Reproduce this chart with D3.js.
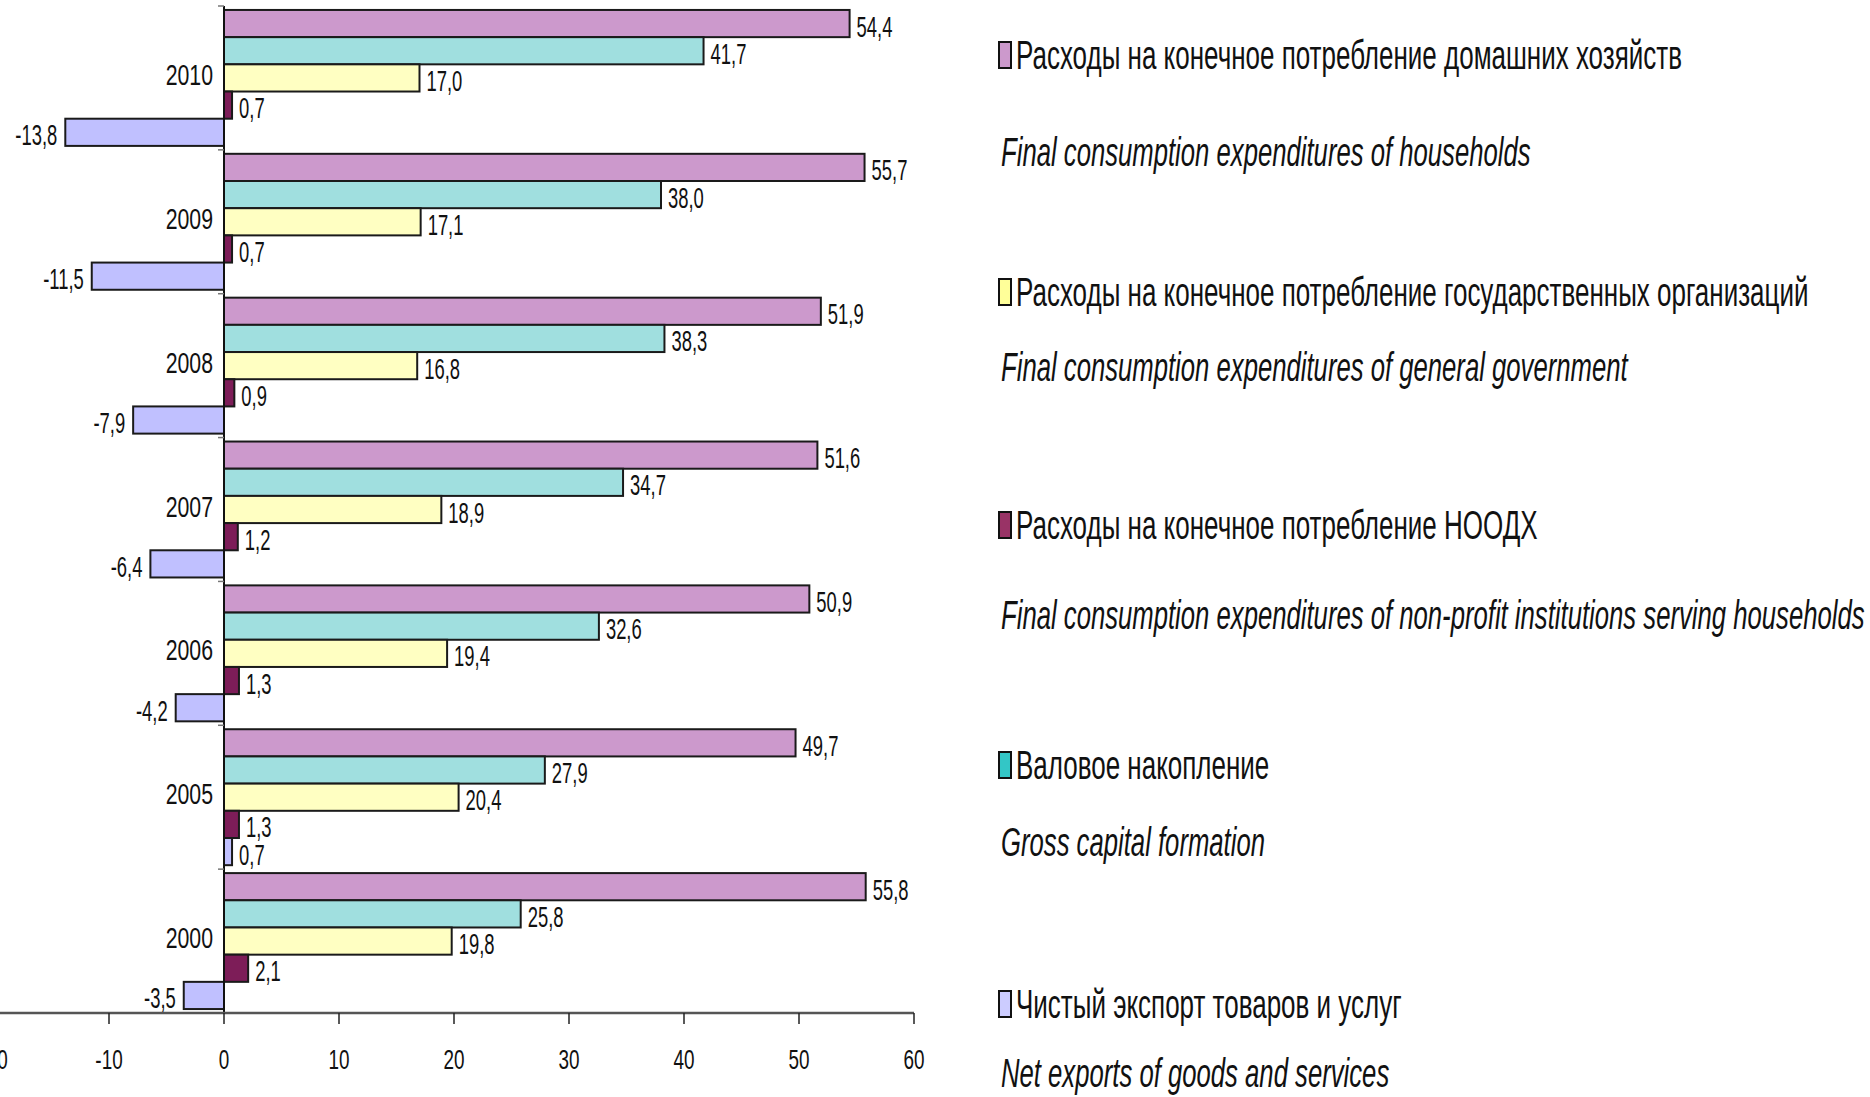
<!DOCTYPE html>
<html>
<head>
<meta charset="utf-8">
<script src="https://cdn.jsdelivr.net/npm/d3@7"></script>
<style>
  html, body { margin: 0; padding: 0; background: #fff; }
  svg { display: block; }
  text { font-family: "Liberation Sans", Arial, sans-serif; fill: #111; }
</style>
</head>
<body>
<svg id="chart" width="1870" height="1097"></svg>
<script>
// ---- Data ----
const years = ["2010", "2009", "2008", "2007", "2006", "2005", "2000"];
const seriesKeys = ["hh", "gcf", "gov", "npish", "nx"]; // bar order top->bottom within a year
const households = [54.4, 55.7, 51.9, 51.6, 50.9, 49.7, 55.8];
const grossCapital = [41.7, 38.0, 38.3, 34.7, 32.6, 27.9, 25.8];
const government = [17.0, 17.1, 16.8, 18.9, 19.4, 20.4, 19.8];
const npish = [0.7, 0.7, 0.9, 1.2, 1.3, 1.3, 2.1];
const netExports = [-13.8, -11.5, -7.9, -6.4, -4.2, 0.7, -3.5];
const xTicks = [-20, -10, 0, 10, 20, 30, 40, 50, 60];

const seriesValues = { hh: households, gcf: grossCapital, gov: government, npish: npish, nx: netExports };
const barColors = { hh: "#cc99cc", gcf: "#a0dfdf", gov: "#ffffc2", npish: "#7d1d58", nx: "#c0c0ff" };
const legendColors = { hh: "#cc99cc", gcf: "#33c6c6", gov: "#ffff99", npish: "#993366", nx: "#ccccff" };

// legend order
const legendKeys = ["hh", "gov", "npish", "gcf", "nx"];
const legendRu = {
  hh: "Расходы на конечное потребление домашних хозяйств",
  gov: "Расходы на конечное потребление государственных организаций",
  npish: "Расходы на конечное потребление НООДХ",
  gcf: "Валовое накопление",
  nx: "Чистый экспорт товаров и услуг"
};
const legendEn = {
  hh: "Final consumption expenditures of households",
  gov: "Final consumption expenditures of general government",
  npish: "Final consumption expenditures of non-profit institutions serving households",
  gcf: "Gross capital formation",
  nx: "Net exports of goods and services"
};

// ---- Layout ----
const svg = d3.select("#chart");
const fmt = v => d3.format(".1f")(v).replace(".", ",").replace("\u2212", "-");

const x = d3.scaleLinear().domain([-20, 60]).range([-6, 914]);
const y = d3.scaleBand().domain(years).range([6, 1013]).paddingInner(0.055).paddingOuter(0.0275);
const ySub = d3.scaleBand().domain(seriesKeys).range([0, y.bandwidth()]);

function sText(sel, tx, ty, sx, size, anchor, italic) {
  return sel.append("text")
    .attr("transform", `translate(${tx},${ty}) scale(${sx},1)`)
    .attr("font-size", size)
    .attr("text-anchor", anchor)
    .attr("font-style", italic ? "italic" : "normal");
}

// rows
const rows = years.map((yr, i) => ({ year: yr, vals: seriesKeys.map(k => ({ key: k, v: seriesValues[k][i] })) }));

const plot = svg.append("g");
const groups = plot.selectAll("g.grp").data(rows).join("g")
  .attr("class", "grp")
  .attr("transform", d => `translate(0,${y(d.year)})`);

groups.selectAll("rect").data(d => d.vals).join("rect")
  .attr("x", d => x(Math.min(0, d.v)))
  .attr("y", d => ySub(d.key))
  .attr("width", d => Math.abs(x(d.v) - x(0)))
  .attr("height", ySub.bandwidth())
  .attr("fill", d => barColors[d.key])
  .attr("stroke", "#1a1a1a")
  .attr("stroke-width", 2);

groups.each(function(d) {
  const g = d3.select(this);
  d.vals.forEach(s => {
    const cy = ySub(s.key) + ySub.bandwidth() / 2 + 13;
    if (s.v >= 0) sText(g, x(s.v) + 7, cy, 0.635, 29, "start").text(fmt(s.v));
    else sText(g, x(s.v) - 8, cy, 0.635, 29, "end").text(fmt(s.v));
  });
  sText(g, 213, y.bandwidth() / 2 + 7, 0.71, 30, "end").text(d.year);
});

// y axis line and small category ticks
svg.append("line").attr("x1", x(0)).attr("x2", x(0)).attr("y1", 6).attr("y2", 1013)
  .attr("stroke", "#111").attr("stroke-width", 2);
const bounds = d3.range(years.length + 1).map(i => y.range()[0] + i * y.step());
svg.selectAll("line.ctick").data(bounds).join("line").attr("class", "ctick")
  .attr("x1", x(0) - 6).attr("x2", x(0)).attr("y1", d => d).attr("y2", d => d)
  .attr("stroke", "#777").attr("stroke-width", 1.5);

// x axis
const axisY = 1013;
svg.append("line").attr("x1", 0).attr("x2", x(60)).attr("y1", axisY).attr("y2", axisY)
  .attr("stroke", "#555").attr("stroke-width", 2.5);
svg.selectAll("line.xtick").data(xTicks).join("line").attr("class", "xtick")
  .attr("x1", d => x(d)).attr("x2", d => x(d)).attr("y1", axisY).attr("y2", axisY + 11)
  .attr("stroke", "#222").attr("stroke-width", 1.5);
xTicks.forEach(t => sText(svg, x(t), 1069, 0.7, 27, "middle").text(String(t)));

// legend
const legendRuBase = [69, 306, 539, 779, 1018];
const legendEnBase = [166, 381, 629, 856, 1087];
legendKeys.forEach((k, i) => {
  svg.append("rect")
    .attr("x", 999).attr("y", legendRuBase[i] - 27)
    .attr("width", 12).attr("height", 26)
    .attr("fill", legendColors[k]).attr("stroke", "#111").attr("stroke-width", 2);
  sText(svg, 1016, legendRuBase[i], 0.65, 40, "start").text(legendRu[k]);
  sText(svg, 1001, legendEnBase[i], 0.642, 40, "start", true).text(legendEn[k]);
});
</script>
</body>
</html>
